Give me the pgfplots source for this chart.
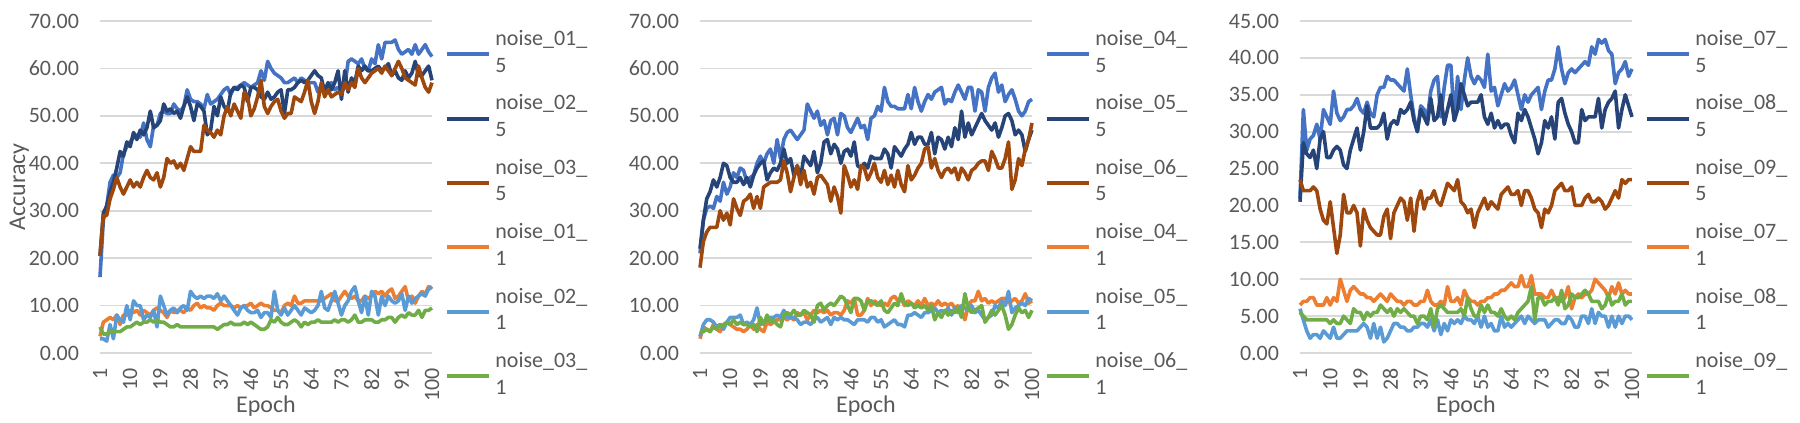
\documentclass[border=0pt]{standalone}
\usepackage{fontspec}
\setmainfont{Carlito}
\usepackage{pgfplots}
\pgfplotsset{compat=1.18}
\definecolor{c1}{HTML}{4472C4}
\definecolor{c2}{HTML}{264478}
\definecolor{c3}{HTML}{9E480E}
\definecolor{c4}{HTML}{ED7D31}
\definecolor{c5}{HTML}{5B9BD5}
\definecolor{c6}{HTML}{70AD47}
\definecolor{txt}{HTML}{595959}
\definecolor{grd}{HTML}{D9D9D9}
\newcommand\lent[2]{{\fontsize{11}{13.3}\selectfont\vtop{\hbox{\strut #1}\hbox{\strut #2}}}}
\pgfplotsset{
  panel/.style={
    width=166pt, height=166pt, scale only axis, anchor=south west,
    xmin=1, xmax=100, ymin=0,
    xtick={1,10,...,100},
    xticklabels={1,10,19,28,37,46,55,64,73,82,91,100},
    axis line style={draw=none}, major tick style={draw=none}, major tick length=0pt,
    ymajorgrids, grid style={draw=grd, line width=0.9pt},
    tick label style={font=\fontsize{11}{13}\selectfont, text=txt},
    xticklabel style={rotate=90, anchor=east, inner sep=0pt, outer xsep=7.5pt, outer ysep=0pt},
    yticklabel style={anchor=east, inner sep=0pt, outer xsep=10.5pt, outer ysep=0pt},
    /pgf/number format/fixed, /pgf/number format/fixed zerofill,
    /pgf/number format/precision=2, /pgf/number format/assume math mode=true,
    label style={font=\fontsize{12}{14}\selectfont, text=txt},
    xlabel={Epoch}, xlabel style={at={(axis description cs:0.5,-0.1807)}, anchor=base},
    clip=false,
    every axis plot/.append style={line width=1.8pt, line join=round, no markers},
    legend style={draw=none, fill=none, at={(1,1)}, anchor=north west, xshift=6.5pt, yshift=-4pt,
      inner sep=0pt, row sep=0pt, column sep=2pt, font=\fontsize{11}{13.3}\selectfont,
      nodes={inner sep=0pt, text=txt, text height=8pt, text depth=24.2pt}},
    legend cell align=left,
    legend image code/.code={\draw[#1, line width=2pt] (0pt,3.7pt) -- (21pt,3.7pt);},
  },
  /pgfplots/table/dat/.style={x expr=\coordindex+1, y index=0, header=false, row sep=\\},
}
\begin{document}
\begin{tikzpicture}
% ---------------- Panel 1
\begin{axis}[panel, at={(50pt,35pt)}, ymax=70, ytick={0,10,...,70},
  ylabel={Accuracy}, ylabel style={at={(axis description cs:-0.2259,0.5)}, anchor=base}]
\addplot[c1] table[dat] {16\\28\\31\\36\\37.5\\37\\38\\42\\43.5\\44.5\\45.5\\46\\45.5\\48.5\\45\\43.5\\48\\48\\50.5\\51\\50.5\\50.5\\52.5\\51.5\\51\\52\\55.5\\53.5\\53\\53\\52.5\\51.5\\54.5\\52.5\\53\\53.5\\54.5\\55.5\\56\\54.5\\56\\56\\56.5\\57\\56.5\\56\\56.5\\57\\59.5\\57.5\\61.5\\60\\59\\58.5\\58\\57\\57\\57.5\\58\\57\\58\\57.5\\57\\57\\57\\55\\56.5\\56\\56.5\\57\\55.5\\56\\55\\56\\61.5\\62\\61.5\\61\\62\\60\\59.5\\62\\61\\65\\62\\65.5\\65.5\\65.5\\66\\64\\63\\63.5\\64\\63\\65\\63\\64\\65\\63.5\\62.5\\};
\addlegendentry{\lent{noise\_01\_}{5}}
\addplot[c2] table[dat] {20.5\\29.5\\31\\34\\36\\39\\42.5\\41.5\\44.5\\43.5\\46.5\\45\\47\\46\\47.5\\51\\47.5\\48\\49\\52.5\\51\\51.5\\50.5\\51\\49.5\\52\\54\\52\\49\\52.5\\52\\51\\46\\47\\52\\50\\54\\52\\51\\55\\56\\55.5\\56.5\\56\\53\\56\\56\\55.5\\54\\53.5\\55\\53.5\\54\\55\\55.5\\50.5\\55.5\\55.5\\56\\57\\57.5\\57\\57.5\\58.5\\59.5\\58.5\\58\\55\\57\\55.5\\57\\59.5\\53.5\\59.5\\55\\58\\57\\60.5\\59.5\\60.5\\59.5\\59.5\\60\\60.5\\59.5\\60\\61\\58.5\\59.5\\58\\57.5\\59.5\\58\\59\\61.5\\58.5\\58.5\\59.5\\60.5\\57.5\\};
\addlegendentry{\lent{noise\_02\_}{5}}
\addplot[c3] table[dat] {20.5\\29\\29\\32.5\\34.5\\37\\35\\33.5\\35\\36.5\\35\\36\\35\\37\\38.5\\37\\36.5\\38\\35\\37\\41\\40\\40.5\\39\\40\\38.5\\41\\43.5\\42.5\\42.5\\42.5\\48\\47\\46.5\\45.5\\47\\46\\50\\52\\50\\52.5\\51\\49.5\\55\\54\\50\\51.5\\54\\57.5\\52\\50.5\\52\\53\\53.5\\51\\49.5\\50.5\\50.5\\54\\53.5\\53\\55\\57.5\\53\\50.5\\53\\57\\54\\55.5\\54\\54.5\\55\\54.5\\57\\55.5\\57\\56\\60\\58\\57\\58\\59\\59.5\\60\\59\\60.5\\59.5\\58.5\\60\\61.5\\60\\58\\57.5\\57\\56.5\\60.5\\58\\56\\55\\57\\};
\addlegendentry{\lent{noise\_03\_}{5}}
\addplot[c4] table[dat] {3.5\\6.5\\7\\7.5\\7\\8\\6\\8\\8\\9\\8.5\\9\\8\\9\\8.5\\8\\9\\9.5\\9\\8.5\\7.5\\9\\8.5\\9\\9\\8.5\\9.5\\9\\10\\10.5\\9.5\\10\\9.5\\9.5\\9\\10\\10.5\\10\\10\\10\\9.5\\10\\9.5\\10\\10\\10.5\\9.5\\10\\10.5\\10\\10\\9.5\\9\\9\\8.5\\10\\10.5\\10\\12\\10.5\\10.5\\11\\11\\11\\11\\11\\11\\11.5\\12\\12.5\\11\\11\\12\\13\\12\\11.5\\12\\11\\11\\12\\11.5\\12\\13\\12.5\\13\\12\\13\\13.5\\11.5\\12\\13\\14\\11\\12\\10.5\\12\\13\\12.5\\14\\13.5\\};
\addlegendentry{\lent{noise\_01\_}{1}}
\addplot[c5] table[dat] {3\\3\\2.5\\6\\3\\8\\7\\6.5\\10\\7\\11\\10\\10\\7\\8\\7.5\\9\\5.5\\12\\10\\8\\9\\9.5\\8.5\\9.5\\10\\9\\13\\12\\11.5\\12\\11.5\\12\\12\\11.5\\12.5\\11\\12\\11\\10\\9\\8\\9.5\\10\\9\\8.5\\8.5\\9\\7.5\\8.5\\8.5\\7.5\\13\\9\\8\\9.5\\8\\9\\10\\9\\8\\9.5\\9\\8.5\\9\\10\\13\\9.5\\9\\11\\13\\10.5\\8\\10\\11\\13\\14\\11\\8.5\\12\\8\\13\\12\\8\\12\\10\\12\\11\\10.5\\11\\12.5\\9\\12\\10.5\\11.5\\12\\12.5\\12\\13.5\\14\\};
\addlegendentry{\lent{noise\_02\_}{1}}
\addplot[c6] table[dat] {5.5\\4\\4\\4.5\\4.5\\4.5\\4.5\\5\\5.5\\5.5\\6\\6.5\\6\\6.5\\6.5\\7\\6.5\\7\\6.5\\6.5\\6\\5.5\\5.5\\6\\5.5\\5.5\\5.5\\5.5\\5.5\\5.5\\5.5\\5.5\\5.5\\5.5\\5.5\\5\\5.5\\6\\6\\6.5\\6\\6\\6\\6.5\\6\\6.5\\6\\5.5\\5\\5\\5.5\\7\\6.5\\7.5\\6.5\\6\\6\\6.5\\7\\6.5\\5.5\\6.5\\6\\6.5\\6.5\\7\\6.5\\6.5\\6.5\\6.5\\7\\6.5\\7\\7\\6.5\\7\\8\\6.5\\6.5\\7\\7\\7\\6.5\\6.5\\7\\7\\7.5\\7.5\\6.5\\7.5\\8\\7.5\\8.5\\8\\8\\9\\7.5\\9\\9\\9.5\\};
\addlegendentry{\lent{noise\_03\_}{1}}
\end{axis}
% ---------------- Panel 2
\begin{axis}[panel, at={(350pt,35pt)}, ymax=70, ytick={0,10,...,70}]
\addplot[c1] table[dat] {21\\28\\30.5\\31\\30.5\\33\\32\\36\\33.5\\35\\38\\37\\39\\38.5\\36\\37\\37.5\\40\\41.5\\40\\42\\43\\40\\45\\41\\45\\46.5\\47\\46\\45\\46\\47\\52.5\\51\\49.5\\51\\48\\49\\46\\49\\49.5\\46\\50.5\\50\\47.5\\46.5\\48\\49.5\\47.5\\48\\45\\49.5\\50\\52\\51\\56\\53\\52\\52\\51.5\\51.5\\51.5\\54.5\\51.5\\56\\53\\51\\53\\54.5\\53.5\\55\\55.5\\56\\52.5\\53.5\\53\\55\\56.5\\55\\53.5\\56\\56\\51\\55.5\\55\\51\\56\\58\\59\\55\\56.5\\53\\54.5\\55.5\\53.5\\51\\50\\51\\53\\53.5\\};
\addlegendentry{\lent{noise\_04\_}{5}}
\addplot[c2] table[dat] {22\\28\\32.5\\34\\36.5\\35\\37\\40\\39.5\\37\\36\\36\\37\\35.5\\37\\35\\37.5\\39\\40\\40.5\\36.5\\38\\39\\38.5\\40\\43\\40\\41\\37.5\\39.5\\37\\41.5\\40.5\\39.5\\42.5\\38\\40\\44.5\\45\\42\\44\\43\\40\\42.5\\43\\41.5\\44.5\\39.5\\39\\40\\39\\41.5\\41\\41\\41\\43\\42\\39\\43.5\\42.5\\41.5\\43\\44\\46.5\\44\\45.5\\45.5\\44\\44\\46.5\\42\\45.5\\45\\43\\45.5\\43.5\\47.5\\45\\51\\45.5\\48.5\\46\\47.5\\49\\50.5\\49\\48\\47\\48.5\\45.5\\47.5\\50\\50.5\\49\\46\\47\\46\\42.5\\45\\47\\};
\addlegendentry{\lent{noise\_05\_}{5}}
\addplot[c3] table[dat] {18\\23.5\\25.5\\26.5\\26.5\\26.5\\30\\28\\29.5\\27\\32.5\\30.5\\29\\32\\32.5\\33.5\\30.5\\33\\30.5\\35\\35.5\\36\\36\\36\\36.5\\40.5\\38\\34\\37\\39.5\\35.5\\38.5\\35\\36\\33.5\\37\\37.5\\36.5\\35.5\\32\\35\\33\\29.5\\39.5\\37.5\\35\\36.5\\34.5\\39.5\\39\\36.5\\38\\40\\37\\36\\38.5\\35.5\\37.5\\35\\38.5\\35.5\\34\\39.5\\36.5\\37.5\\39\\40\\43\\43.5\\39\\41\\38.5\\37\\38.5\\39\\38\\39\\36.5\\39\\38\\36.5\\38.5\\39\\40\\40.5\\40.5\\38.5\\42.5\\41\\39\\39\\41\\44.5\\34.5\\36.5\\41\\39.5\\43\\45\\48.5\\};
\addlegendentry{\lent{noise\_06\_}{5}}
\addplot[c4] table[dat] {3\\5.5\\5\\4.5\\6\\5\\4.5\\6\\6.5\\6\\5.5\\5\\5\\4.5\\5\\6\\5\\6\\5\\4.5\\6.5\\6\\6.5\\7\\7\\7.5\\7\\7.5\\7\\8.5\\8\\8.5\\7\\8\\9\\8.5\\9\\8.5\\9\\8\\8.5\\8.5\\8\\9\\11\\10.5\\11.5\\8\\8\\9\\11.5\\10\\11\\10.5\\10\\10.5\\10\\11.5\\12\\11\\11.5\\10\\11\\10.5\\10\\11\\10\\11.5\\10\\10.5\\10\\11\\10\\10.5\\10\\10.5\\9.5\\10\\9\\7\\10\\11\\11\\13\\11\\11.5\\10.5\\11\\10.5\\11\\11.5\\11.5\\10.5\\11\\11.5\\10.5\\11\\12.5\\10.5\\11\\};
\addlegendentry{\lent{noise\_04\_}{1}}
\addplot[c5] table[dat] {3.5\\6\\7\\7\\6.5\\5.5\\6\\5\\6.5\\7.5\\7.5\\7.5\\8\\6\\6.5\\6\\7\\9.5\\6\\6.5\\7\\7.5\\7.5\\8\\7.5\\9\\7.5\\7.5\\7.5\\7\\6\\6.5\\6.5\\6\\7\\7.5\\6.5\\7\\7.5\\6\\7.5\\7\\7.5\\7\\7\\6.5\\6\\7\\7\\7\\6.5\\7.5\\7.5\\6.5\\7\\5.5\\6\\6.5\\7\\6\\6\\5.5\\8\\8\\8.5\\8\\7.5\\8.5\\8.5\\9\\9.5\\8.5\\9\\8.5\\9.5\\8\\9.5\\8.5\\10\\9.5\\9\\10\\8.5\\9\\8\\7\\7.5\\8\\10\\9.5\\11\\10\\13\\8.5\\9.5\\10\\10.5\\10\\11.5\\11\\};
\addlegendentry{\lent{noise\_05\_}{1}}
\addplot[c6] table[dat] {4.5\\4.5\\5\\4.5\\5.5\\5\\6\\5.5\\6.5\\6\\7\\6\\6.5\\6\\6\\5.5\\6\\4.5\\7.5\\6\\8\\6.5\\7\\6\\5.5\\8\\8.5\\8\\9\\8\\8\\9\\8.5\\8\\6.5\\10\\10.5\\9\\10\\10.5\\10\\11\\12\\11.5\\10\\8.5\\11.5\\11.5\\11\\9\\11\\11\\10.5\\10\\11\\9\\8.5\\9.5\\10.5\\10\\12.5\\10.5\\10\\10.5\\9.5\\10\\9.5\\10\\9\\10\\7\\8.5\\7.5\\9\\8\\9\\8.5\\9.5\\7.5\\12.5\\9.5\\8.5\\9\\9.5\\10\\6.5\\7.5\\9\\8\\9\\10\\8\\5\\6\\8\\9.5\\8.5\\9\\7.5\\9\\};
\addlegendentry{\lent{noise\_06\_}{1}}
\end{axis}
% ---------------- Panel 3
\begin{axis}[panel, at={(650pt,35pt)}, ymax=45, ytick={0,5,...,45}]
\addplot[c1] table[dat] {21\\33\\27.5\\29\\29.5\\31\\29\\33\\32\\31\\35.5\\32.5\\31.5\\32\\33\\33\\33.5\\34.5\\33\\32.5\\34\\32.5\\32\\35\\36\\36\\37.5\\37\\37\\36.5\\36\\35.5\\38.5\\35\\32\\30\\33.5\\33\\32\\35.5\\37\\37.5\\32\\36\\39\\39\\31.5\\37.5\\33\\37\\40\\37.5\\36.5\\37.5\\37\\36\\40.5\\35.5\\36\\33.5\\35\\36.5\\35.5\\36\\37\\35\\33\\35\\34\\35\\35.5\\36\\33\\35.5\\37\\37\\38.5\\41.5\\38.5\\36.5\\38\\38.5\\38\\38.5\\39\\39.5\\39\\41.5\\40.5\\42.5\\42\\42.5\\41\\40.5\\36.5\\38\\38.5\\39.5\\37.5\\38.5\\};
\addlegendentry{\lent{noise\_07\_}{5}}
\addplot[c2] table[dat] {20.5\\28.5\\27\\26.5\\27.5\\25\\29\\30\\26.5\\26.5\\27.5\\28\\27.5\\25.5\\25\\27.5\\29\\30.5\\27.5\\30\\33.5\\30.5\\30.5\\30.5\\31\\32.5\\29\\31\\31.5\\31\\33\\32.5\\33\\34\\31.5\\30\\33\\32\\31\\34.5\\31.5\\32\\35\\31\\33\\35\\31.5\\33\\36.5\\35\\33.5\\34\\34\\34\\35\\32\\31\\32.5\\30.5\\31.5\\30.5\\31\\31\\29.5\\28.5\\32.5\\31.5\\33\\32\\30.5\\29\\27\\28.5\\31.5\\30.5\\32\\29\\34\\34.5\\32.5\\31\\30\\28.5\\28.5\\33\\31.5\\32\\32\\32\\34.5\\30.5\\33\\34\\34.5\\35.5\\30.5\\33\\35\\33.5\\32\\};
\addlegendentry{\lent{noise\_08\_}{5}}
\addplot[c3] table[dat] {23.5\\22\\22\\22\\22.5\\22\\19.5\\18\\17.5\\20.5\\17\\13.5\\16\\21.5\\19\\19\\20\\19\\14.5\\19.5\\18\\17\\16.5\\16\\16\\18.5\\19.5\\15.5\\19\\20\\21\\20.5\\18\\21\\16.5\\20.5\\22\\19.5\\21\\21\\22\\20.5\\20\\21.5\\23\\22.5\\22\\23.5\\20.5\\20\\19\\19.5\\17\\19\\20\\21\\19.5\\20.5\\20\\19.5\\21.5\\22\\22.5\\21.5\\21.5\\22\\20\\22\\22\\21\\19.5\\19\\17\\19.5\\19\\20\\22\\22.5\\23\\22\\22\\22.5\\20\\20\\20\\21\\21.5\\20.5\\20.5\\21\\20.5\\19.5\\20\\21\\22\\21\\23.5\\23\\23.5\\23.5\\};
\addlegendentry{\lent{noise\_09\_}{5}}
\addplot[c4] table[dat] {6.5\\7\\7\\7.5\\7.5\\6.5\\6.5\\6.5\\7.5\\6.5\\7.5\\7\\10\\8.5\\7\\8.5\\9\\8.5\\8\\8\\7.5\\7.5\\7\\7.5\\8\\7.5\\7\\8\\7.5\\7\\7\\6.5\\7\\7\\6.5\\6.5\\7\\7\\8.5\\7\\6.5\\6.5\\7\\6.5\\9\\7\\7\\7.5\\6.5\\8.5\\7.5\\7\\7\\6.5\\7\\7\\7.5\\7.5\\8\\8\\8.5\\8.5\\9\\9.5\\9\\9\\10.5\\9\\9\\10.5\\8\\8\\8\\7.5\\7.5\\8.5\\7.5\\7.5\\7\\7.5\\9\\6\\7.5\\8\\7.5\\8\\8\\8.5\\10\\9.5\\9\\8.5\\7.5\\9\\8\\9.5\\8\\8.5\\8\\8\\};
\addlegendentry{\lent{noise\_07\_}{1}}
\addplot[c5] table[dat] {6\\4.5\\3\\2\\2.5\\2.5\\2\\3\\2.5\\2\\3.5\\2\\2\\2.5\\3\\3\\3\\3\\3.5\\4\\3.5\\2\\4\\2\\3.5\\1.5\\2\\3\\4\\4\\3.5\\3.5\\3\\3\\3.5\\3.5\\4\\4\\3.5\\4.5\\3\\4.5\\2.5\\4\\3\\4.5\\4\\4.5\\4\\5\\4.5\\4.5\\4\\5\\3.5\\5\\3.5\\4\\3\\3\\5\\3.5\\4\\3.5\\4\\4.5\\5\\4\\5\\4.5\\4\\4.5\\4.5\\4.5\\3.5\\4\\4.5\\4.5\\4\\4\\5\\4.5\\3.5\\3.5\\5\\5\\4\\6\\4\\5.5\\5\\5\\3.5\\5\\3.5\\5\\4\\5\\5\\4.5\\};
\addlegendentry{\lent{noise\_08\_}{1}}
\addplot[c6] table[dat] {5.5\\5\\4.5\\4.5\\4.5\\4.5\\4.5\\4.5\\4.5\\4\\4.5\\4\\4\\5\\4.5\\4\\6\\5.5\\5.5\\4.5\\5.5\\5\\5.5\\5.5\\6.5\\6\\5.5\\6\\5\\6\\5.5\\6\\5.5\\5\\5\\4\\5\\5\\4.5\\6\\3.5\\6\\6.5\\6\\5.5\\5.5\\5.5\\5.5\\6\\5\\7.5\\6\\5\\5\\6.5\\5.5\\6.5\\5.5\\5.5\\5\\6\\5\\4.5\\5\\4.5\\5.5\\6\\6.5\\7\\9\\4.5\\7.5\\7.5\\6.5\\7\\7\\7.5\\6.5\\8.5\\6\\6.5\\8\\7.5\\7.5\\8\\8.5\\8\\7\\7\\7\\6\\6.5\\8\\6.5\\7\\7\\8\\6.5\\7\\7\\};
\addlegendentry{\lent{noise\_09\_}{1}}
\end{axis}
\pgfresetboundingbox
\path[use as bounding box] (0,0) rectangle (900pt,211.5pt);
\end{tikzpicture}
\end{document}
